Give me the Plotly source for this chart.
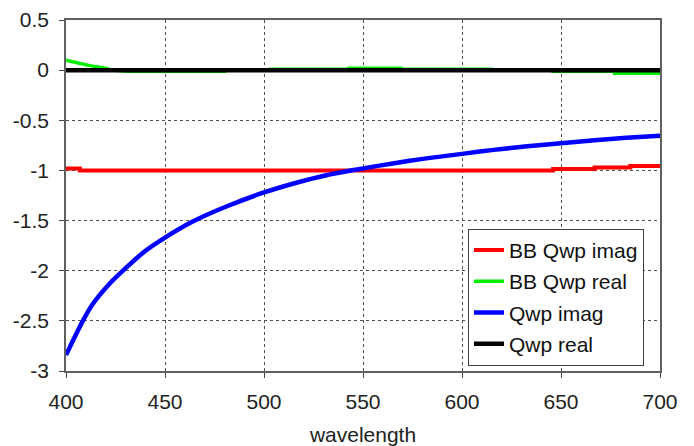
import plotly.graph_objects as go

# wavelength samples and series values
red_x = [400, 407, 407, 515, 515, 620, 620, 646, 646, 667, 667, 685, 685, 700]
red_y = [-0.98, -0.98, -1.0, -1.0, -1.01, -1.01, -1.0, -1.0, -0.985, -0.985, -0.97, -0.97, -0.955, -0.955]

green_x = [400, 404, 408, 412, 416, 420, 423, 431, 480, 480, 503, 503, 543, 543, 569, 569, 615, 615, 646, 646, 677, 677, 700]
green_y = [0.10, 0.08, 0.062, 0.045, 0.032, 0.02, 0.0, -0.01, -0.01, 0.0, 0.0, 0.01, 0.01, 0.02, 0.02, 0.01, 0.01, 0.0, 0.0, -0.01, -0.01, -0.03, -0.03]

blue_x = [400, 408.5, 413.6, 422, 430.4, 438.9, 450, 464, 481, 500, 515, 532, 550, 565, 582, 600, 616, 633, 650, 667, 683, 700]
blue_y = [-2.84, -2.50, -2.33, -2.13, -1.97, -1.82, -1.67, -1.51, -1.36, -1.22, -1.13, -1.045, -0.98, -0.93, -0.88, -0.835, -0.795, -0.76, -0.73, -0.70, -0.675, -0.655]

black_x = [400, 700]
black_y = [0.0, 0.0]

x_ticks = [400, 450, 500, 550, 600, 650, 700]
y_ticks = [0.5, 0, -0.5, -1, -1.5, -2, -2.5, -3]
y_ticktext = ["0.5", "0", "-0.5", "-1", "-1.5", "-2", "-2.5", "-3"]

FONT = "Liberation Sans, Arial, sans-serif"
FS = 21

fig = go.Figure()
fig.add_trace(go.Scatter(x=red_x, y=red_y, mode="lines", name="BB Qwp imag", legendgroup="a",
                         line=dict(color="#ff0000", width=4)))
fig.add_trace(go.Scatter(x=green_x, y=green_y, mode="lines", name="BB Qwp real", legendgroup="b",
                         line=dict(color="#00ee00", width=3.5)))
fig.add_trace(go.Scatter(x=blue_x, y=blue_y, mode="lines", name="Qwp imag", legendgroup="c",
                         line=dict(color="#0000ff", width=4.5, shape="spline", smoothing=0.6)))
fig.add_trace(go.Scatter(x=black_x, y=black_y, mode="lines", name="Qwp real", legendgroup="d",
                         line=dict(color="#000000", width=4.5)))

axis_common = dict(
    showline=True, mirror=True, linecolor="#606060", linewidth=1.5,
    ticks="outside", ticklen=5, tickcolor="#404040",
    showgrid=True, gridcolor="#505050", griddash="dot", gridwidth=1,
    zeroline=False, automargin=False,
    tickfont=dict(family=FONT, size=FS, color="#222222"),
)

fig.update_layout(
    width=694, height=446,
    margin=dict(l=66, r=34, t=20, b=75),
    paper_bgcolor="white", plot_bgcolor="white",
    font=dict(family=FONT, size=FS, color="#111111"),
    xaxis=dict(range=[400, 700], tickvals=x_ticks, ticklabelstandoff=6,
               title=dict(text="wavelength", standoff=17,
                          font=dict(family=FONT, size=FS, color="#222222")),
               **axis_common),
    yaxis=dict(range=[-3, 0.5], tickvals=y_ticks, ticktext=y_ticktext,
               ticklabelstandoff=6, **axis_common),
    legend=dict(x=0.973, y=0.015, xanchor="right", yanchor="bottom",
                bgcolor="white", bordercolor="#404040", borderwidth=1,
                font=dict(family=FONT, size=FS, color="#111111"),
                tracegroupgap=1),
    showlegend=True,
)

fig.write_html("out.html")
